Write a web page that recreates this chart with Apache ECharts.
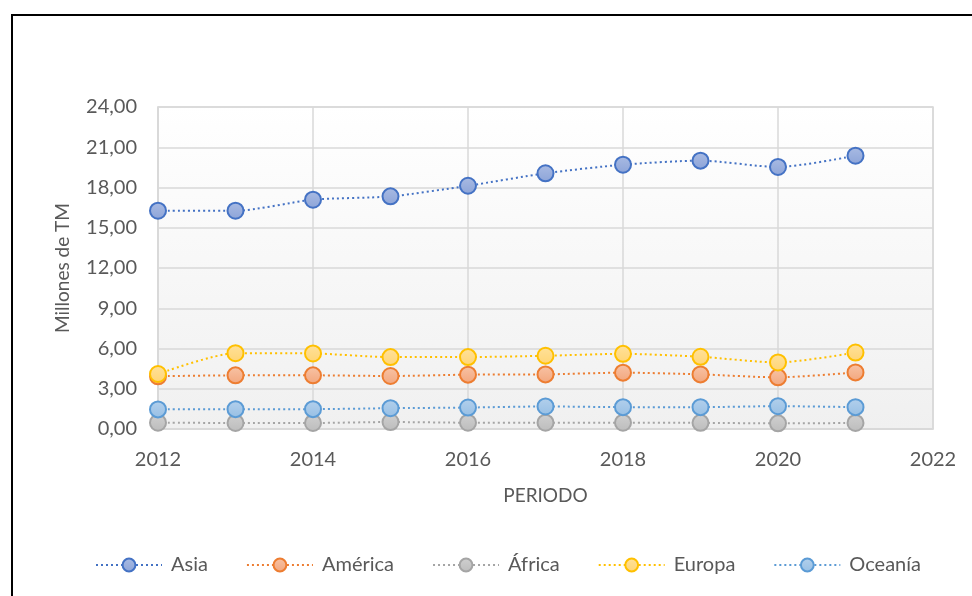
<!DOCTYPE html>
<html>
<head>
<meta charset="utf-8">
<script src="https://cdn.jsdelivr.net/npm/echarts@6/dist/echarts.min.js"></script>
<style>
  html, body { margin: 0; padding: 0; background: #fff; }
  #chart { width: 972px; height: 596px; }
</style>
</head>
<body>
<div id="chart"></div>
<script>
const years = [2012, 2013, 2014, 2015, 2016, 2017, 2018, 2019, 2020, 2021];
const asia = [16.27, 16.27, 17.09, 17.34, 18.13, 19.06, 19.70, 20.00, 19.53, 20.37];
const america = [3.93, 4.00, 4.00, 3.95, 4.05, 4.07, 4.20, 4.07, 3.85, 4.22];
const africa = [0.47, 0.45, 0.45, 0.52, 0.47, 0.47, 0.47, 0.46, 0.42, 0.45];
const europa = [4.10, 5.65, 5.63, 5.36, 5.36, 5.46, 5.60, 5.38, 4.96, 5.70];
const oceania = [1.46, 1.48, 1.48, 1.55, 1.60, 1.68, 1.63, 1.63, 1.70, 1.63];

const FONT = 'Lato, "Open Sans", sans-serif';
const TXT = '#595959';
const FS = 19;

function fmt(v) {
  return v.toFixed(2).replace('.', ',');
}

function mkSeries(name, values, line, border, fill) {
  return {
    name: name,
    type: 'line',
    smooth: 0.25,
    data: years.map((y, i) => [y, values[i]]),
    symbol: 'circle',
    symbolSize: 16,
    lineStyle: { color: line, width: 2, type: [2, 3] },
    itemStyle: {
      color: new echarts.graphic.LinearGradient(0, 0, 0, 1, [
        { offset: 0, color: fill[0] },
        { offset: 1, color: fill[1] }
      ]),
      borderColor: border,
      borderWidth: 2
    }
  };
}

let chart = echarts.init(document.getElementById('chart'));
chart.setOption({
  backgroundColor: '#fff',
  animation: false,
  textStyle: { fontFamily: FONT },
  graphic: [{
    type: 'rect',
    shape: { x: 12, y: 15, width: 1000, height: 700 },
    style: { fill: 'none', stroke: '#000', lineWidth: 2 },
    silent: true
  }],
  grid: {
    left: 158, right: 39, top: 107, bottom: 167,
    show: true,
    borderColor: '#d9d9d9',
    borderWidth: 1.5,
    backgroundColor: new echarts.graphic.LinearGradient(0, 0, 0, 1, [
      { offset: 0, color: '#ffffff' },
      { offset: 1, color: '#f0f0f0' }
    ])
  },
  xAxis: {
    type: 'value',
    min: 2012, max: 2022, interval: 2,
    name: 'PERIODO',
    nameLocation: 'middle',
    nameGap: 57,
    nameTextStyle: { color: TXT, fontSize: FS, fontFamily: FONT },
    axisLine: { show: true, lineStyle: { color: '#d9d9d9', width: 1.5 } },
    axisTick: { show: false },
    axisLabel: { color: TXT, fontSize: 20, margin: 21, fontFamily: FONT, formatter: v => String(v) },
    splitLine: { show: true, lineStyle: { color: '#d9d9d9', width: 1.5 } }
  },
  yAxis: {
    type: 'value',
    min: 0, max: 24, interval: 3,
    name: 'Millones de TM',
    nameLocation: 'middle',
    nameGap: 86,
    nameTextStyle: { color: TXT, fontSize: FS, fontFamily: FONT },
    axisLine: { show: true, lineStyle: { color: '#d9d9d9', width: 1.5 } },
    axisTick: { show: false },
    axisLabel: { color: TXT, fontSize: 20, margin: 21, fontFamily: FONT, formatter: fmt },
    splitLine: { show: true, lineStyle: { color: '#d9d9d9', width: 1.5 } }
  },
  legend: {
    bottom: 16,
    left: 90,
    itemWidth: 66,
    itemHeight: 16,
    itemGap: 38,
    textStyle: { color: TXT, fontSize: 20, fontFamily: FONT, padding: [0, 0, 0, 4] }
  },
  series: [
    mkSeries('Asia', asia, '#4472c4', '#4472c4', ['#a9bbe3', '#8da4d8']),
    mkSeries('América', america, '#ed7d31', '#ed7d31', ['#f8c3a5', '#f2a67d']),
    mkSeries('África', africa, '#a5a5a5', '#a5a5a5', ['#d0d0d0', '#bcbcbc']),
    mkSeries('Europa', europa, '#ffc000', '#ffc000', ['#ffe19a', '#ffd575']),
    mkSeries('Oceanía', oceania, '#5b9bd5', '#5b9bd5', ['#b3d0ec', '#97bfe4'])
  ]
});
</script>
</body>
</html>
